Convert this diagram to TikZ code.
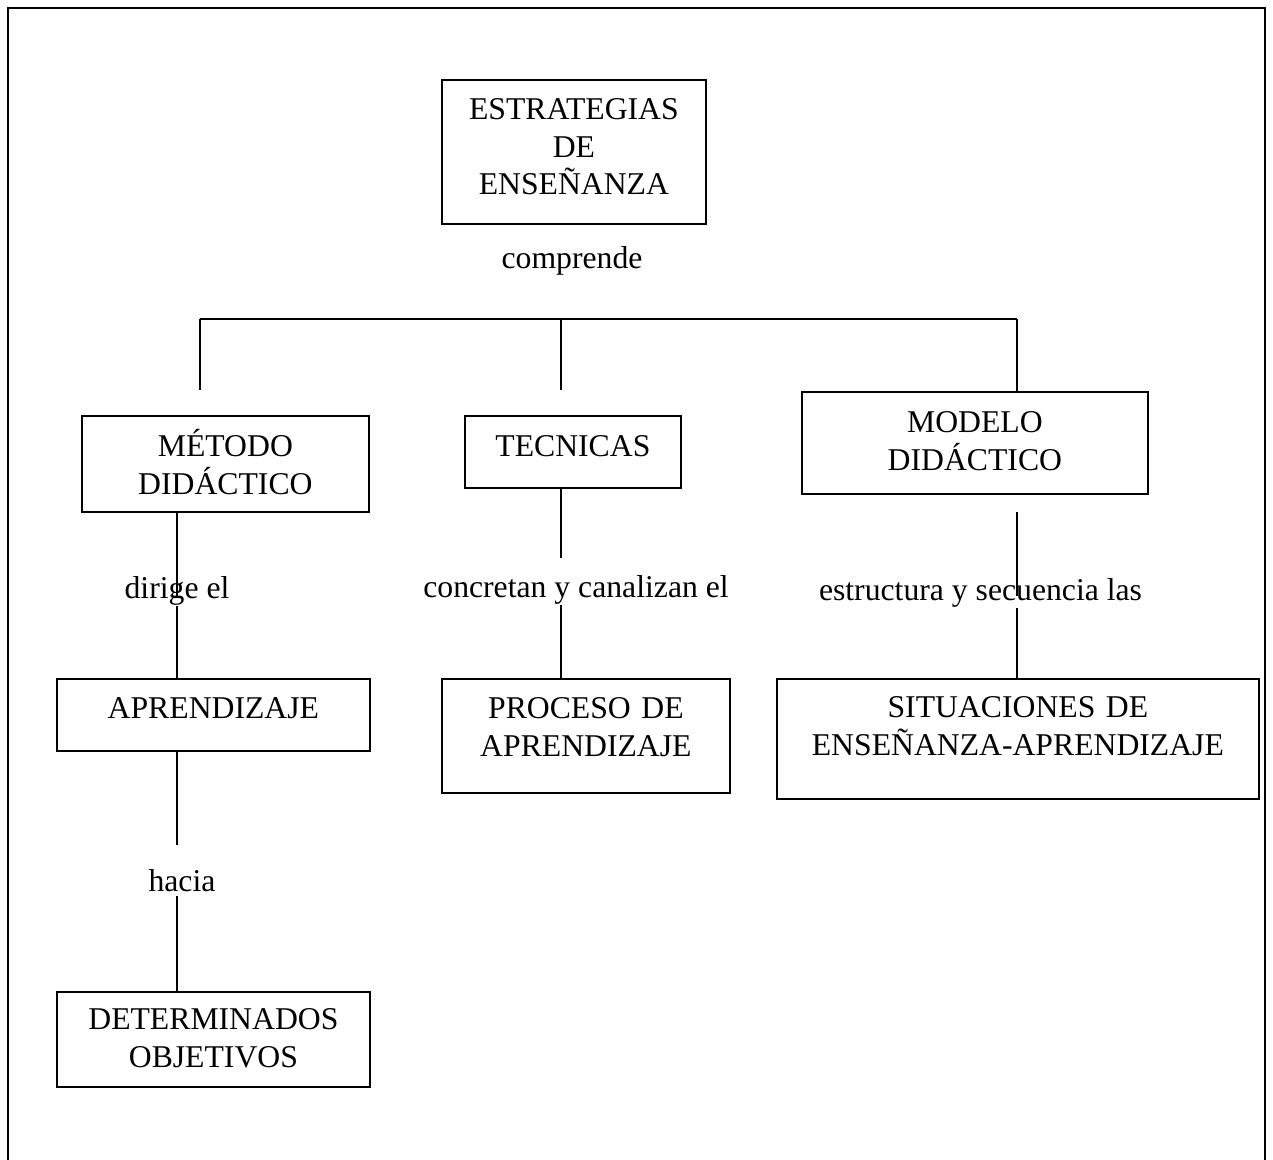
\documentclass[tikz,border=0pt]{standalone}
\usepackage{fontspec}
\setmainfont{Liberation Serif}
\newcommand{\dgfont}{\fontsize{31.7}{37.5}\selectfont}
\begin{document}
\begin{tikzpicture}[x=1pt,y=-1pt,
  cbox/.style={draw, line width=1.8pt, inner sep=0pt, align=center, anchor=north west, font=\dgfont},
  lbl/.style={inner sep=0pt, anchor=base, font=\dgfont},
  conn/.style={line width=1.5pt}]
\useasboundingbox (0,0) rectangle (1273,1159);
% outer frame (bottom edge lies below the page)
\draw[line width=2pt] (8,1165) -- (8,8) -- (1265,8) -- (1265,1165);
% boxes
\node[cbox, text width=264pt, text height=40pt, text depth=104pt] (est) at (441,79) {ESTRATEGIAS\\DE\\ENSEÑANZA};
\node[cbox, text width=287pt, text height=41pt, text depth=55pt] (met) at (81,415) {MÉTODO\\DIDÁCTICO};
\node[cbox, text width=216pt, text height=41pt, text depth=31pt] (tec) at (464,415) {TECNICAS};
\node[cbox, text width=346pt, text height=41pt, text depth=61pt] (mod) at (801,391) {MODELO\\DIDÁCTICO};
\node[cbox, text width=313pt, text height=40pt, text depth=32pt] (apr) at (56,678) {APRENDIZAJE};
\node[cbox, text width=288pt, text height=40pt, text depth=74pt] (proc) at (441,678) {PROCESO DE\\APRENDIZAJE};
\node[cbox, text width=482pt, text height=39pt, text depth=81pt] (sit) at (776,678) {SITUACIONES DE\\ENSEÑANZA-APRENDIZAJE};
\node[cbox, text width=313pt, text height=38pt, text depth=57pt] (det) at (56,991) {DETERMINADOS\\OBJETIVOS};
% labels
\node[lbl] (comp) at (572,268) {comprende};
\node[lbl, text height=0pt, text depth=8pt] (dir) at (177,598) {dirige el};
\node[lbl, text height=39pt, text depth=8pt] (conc) at (576,597) {concretan y canalizan el};
\node[lbl, text height=4pt, text depth=8pt] (estr) at (980.5,600) {estructura y secuencia las};
\node[lbl, text height=46pt, text depth=5pt] (hac) at (182,891) {hacia};
% tree junctions
\coordinate (lj) at (200,319);
\coordinate (cj) at (561,319);
\coordinate (rj) at (1017,319);
\coordinate (ld) at (200,390);
\coordinate (cd) at (561,390);
\coordinate (ms) at (1017,512);
% connectors
\draw[conn] (lj) -- (rj);
\draw[conn] (lj) -- (ld);
\draw[conn] (cj) -- (cd);
\draw[conn] (rj) -- (rj |- mod.north);
\draw[conn] (met.south -| dir) -- (dir.north);
\draw[conn] (dir.south) -- (apr.north -| dir);
\draw[conn] (apr.south -| dir) -- (hac.north -| dir);
\draw[conn] (hac.south -| dir) -- (det.north -| dir);
\draw[conn] (tec.south -| cj) -- (conc.north -| cj);
\draw[conn] (conc.south -| cj) -- (proc.north -| cj);
\draw[conn] (ms) -- (estr.north -| ms);
\draw[conn] (estr.south -| ms) -- (sit.north -| ms);
\end{tikzpicture}
\end{document}
